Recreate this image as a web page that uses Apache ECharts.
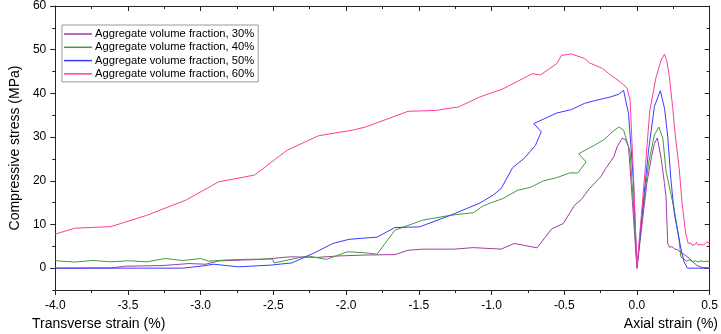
<!DOCTYPE html>
<html>
<head>
<meta charset="utf-8">
<script src="https://cdn.jsdelivr.net/npm/echarts@6/dist/echarts.min.js"></script>
<style>
html,body{margin:0;padding:0;background:#fff;}
#chart{width:721px;height:334px;}
</style>
</head>
<body>
<div id="chart"></div>
<script>
// ---- Data (strain %, stress MPa) ----
const seriesNames = [
  'Aggregate volume fraction, 30%',
  'Aggregate volume fraction, 40%',
  'Aggregate volume fraction, 50%',
  'Aggregate volume fraction, 60%'
];

const strain30 = [-4, -3.618, -3.517, -3.259, -3.08, -2.966, -2.877, -2.72, -2.585, -2.383, -2.203, -2.046, -1.866, -1.664, -1.574, -1.473, -1.26, -1.125, -0.934, -0.844, -0.687, -0.586, -0.507, -0.429, -0.383, -0.327, -0.249, -0.215, -0.159, -0.136, -0.102, -0.08, -0.058, -0.045, 0,
  0.035, 0.068, 0.1, 0.12, 0.14, 0.167, 0.189, 0.2, 0.208, 0.212, 0.215, 0.225, 0.24, 0.26, 0.28, 0.3, 0.32, 0.35, 0.38, 0.41, 0.44, 0.5];
const stress30 = [0, 0.05, 0.45, 0.6, 1.05, 0.9, 1.65, 1.85, 2.0, 2.6, 2.45, 2.8, 3.0, 3.1, 4.1, 4.35, 4.35, 4.7, 4.35, 5.65, 4.65, 9.0, 10.2, 14.4, 15.7, 18.2, 20.9, 22.8, 25.5, 27.8, 29.7, 29.5, 27.8, 22, 0,
  10, 19.4, 25.5, 28.5, 29.8, 25.1, 19.4, 16.3, 9, 5.6, 5.3, 4.8, 4.9, 4.4, 4.2, 3.6, 3.2, 2.5, 1.6, 0.7, 0.2, 0];

const strain40 = [-4, -3.865, -3.74, -3.618, -3.495, -3.37, -3.247, -3.124, -3.0, -2.944, -2.83, -2.72, -2.506, -2.495, -2.315, -2.258, -2.136, -1.99, -1.866, -1.787, -1.664, -1.473, -1.282, -1.125, -1.06, -1.001, -0.923, -0.822, -0.732, -0.642, -0.552, -0.462, -0.406, -0.35, -0.4, -0.294, -0.226, -0.17, -0.125, -0.092, -0.047, -0.025, 0,
  0.04, 0.08, 0.12, 0.151, 0.178, 0.2, 0.223, 0.257, 0.29, 0.302, 0.324, 0.34, 0.36, 0.38, 0.40, 0.42, 0.44, 0.46, 0.48, 0.5];
const stress40 = [1.7, 1.4, 1.75, 1.45, 1.7, 1.45, 2.2, 1.75, 2.2, 1.6, 1.85, 2.0, 2.1, 1.2, 2.45, 2.75, 2.0, 3.75, 3.5, 3.2, 8.7, 11.0, 12.1, 12.7, 14.2, 15.0, 15.9, 17.8, 18.5, 20.0, 20.7, 21.8, 21.8, 24.3, 26.2, 28.1, 29.4, 31.2, 32.3, 31.6, 26.6, 15, 0,
  13, 24, 30.5, 32.3, 29.7, 22.2, 18.6, 13.3, 6.4, 2.6, 2.05, 1.6, 1.9, 1.5, 1.7, 1.4, 1.7, 1.5, 1.6, 1.5];

const strain50 = [-4, -3.618, -3.124, -2.99, -2.91, -2.74, -2.517, -2.372, -2.225, -2.09, -1.98, -1.866, -1.787, -1.664, -1.495, -1.282, -1.08, -0.99, -0.934, -0.855, -0.776, -0.698, -0.658, -0.709, -0.552, -0.45, -0.361, -0.282, -0.181, -0.125, -0.092, -0.058, -0.024, 0,
  0.04, 0.08, 0.12, 0.161, 0.19, 0.212, 0.234, 0.257, 0.279, 0.302, 0.324, 0.347, 0.4, 0.5];
const stress50 = [0, 0, 0, 0.5, 0.9, 0.3, 0.7, 1.2, 3.4, 5.65, 6.6, 6.9, 7.1, 9.3, 9.45, 12.1, 14.9, 16.7, 18.2, 23.0, 25.1, 28.1, 31.2, 33.1, 35.5, 36.3, 37.7, 38.4, 39.2, 39.8, 40.7, 35.4, 20, 0,
  14, 27, 37, 40.6, 36.5, 30.0, 20.1, 12.5, 8.7, 4.5, 1.45, 0, 0, 0];

const strain60 = [-4, -3.865, -3.618, -3.37, -3.1, -2.877, -2.63, -2.405, -2.19, -1.955, -1.866, -1.574, -1.383, -1.226, -1.08, -0.923, -0.72, -0.664, -0.552, -0.518, -0.45, -0.36, -0.327, -0.237, -0.181, -0.114, -0.069, -0.047, -0.025, 0,
  0.03, 0.06, 0.088, 0.13, 0.165, 0.19, 0.205, 0.223, 0.245, 0.265, 0.29, 0.31, 0.335, 0.353, 0.36, 0.37, 0.38, 0.39, 0.40, 0.41, 0.42, 0.43, 0.44, 0.45, 0.46, 0.47, 0.48, 0.49, 0.5];
const stress60 = [7.8, 9.15, 9.5, 12.1, 15.6, 19.75, 21.3, 27, 30.3, 31.6, 32.3, 35.9, 36.1, 36.9, 39.2, 41, 44.5, 44.2, 46.8, 48.7, 49, 48, 47, 45.7, 44.2, 42.6, 41.3, 38.4, 22, 0,
  12, 24, 36, 43.5, 47.5, 49, 47.5, 43.8, 37, 30, 23, 15, 8, 5.6, 5.3, 5.8, 5.2, 5.6, 5.4, 5.9, 5.3, 5.6, 5.4, 5.8, 5.3, 5.5, 6.0, 5.6, 5.8];

const yMajorTicks = [0, 10, 20, 30, 40, 50, 60];
const yMinorTicks = [-5, 5, 15, 25, 35, 45, 55];

const colors = ['#a23ca3', '#3f9e3f', '#3b3bff', '#ff3d9d'];
const FONT = '"Liberation Sans", Arial, sans-serif';

function zip(xs, ys) { return xs.map((x, i) => [x, ys[i]]); }
const allData = [zip(strain30, stress30), zip(strain40, stress40), zip(strain50, stress50), zip(strain60, stress60)];

const axisLineStyle = { color: '#222', width: 1 };

const chart = echarts.init(document.getElementById('chart'), null, { renderer: 'canvas' });
chart.setOption({
  animation: false,
  backgroundColor: '#fff',
  textStyle: { fontFamily: FONT },
  title: [
    { text: 'Transverse strain (%)', left: 32, top: 317, padding: 0,
      textStyle: { fontSize: 14, fontWeight: 'normal', color: '#000', fontFamily: FONT } },
    { text: 'Axial strain (%)', right: 3, top: 317, padding: 0,
      textStyle: { fontSize: 14, fontWeight: 'normal', color: '#000', fontFamily: FONT } }
  ],
  legend: {
    orient: 'vertical', left: 62, top: 25,
    data: seriesNames,
    icon: 'rect',
    borderColor: '#999', borderWidth: 1, borderRadius: 0,
    padding: [3, 4, 2, 2],
    itemWidth: 28, itemHeight: 1.5, itemGap: 1.3,
    textStyle: { fontSize: 11.2, lineHeight: 12, color: '#000', fontFamily: FONT, padding: [0, 0, 0, -2] }
  },
  grid: { left: 43, right: 10, top: 6, bottom: 44, containLabel: false },
  xAxis: [
    { type: 'value', position: 'bottom', min: -4, max: 0.5, interval: 0.5,
      axisLine: { show: true, onZero: false, lineStyle: axisLineStyle },
      axisTick: { show: true, inside: false, length: 5, lineStyle: axisLineStyle },
      minorTick: { show: true, splitNumber: 2, length: 3, lineStyle: axisLineStyle },
      axisLabel: { fontSize: 12, color: '#000', margin: 10, fontFamily: FONT,
        formatter: v => v.toFixed(1) },
      splitLine: { show: false }, minorSplitLine: { show: false } },
    { type: 'value', position: 'top', min: -4, max: 0.5, interval: 0.5,
      axisLine: { show: true, onZero: false, lineStyle: axisLineStyle },
      axisTick: { show: true, inside: true, length: 5, lineStyle: axisLineStyle },
      minorTick: { show: true, splitNumber: 2, length: 3, lineStyle: axisLineStyle },
      axisLabel: { show: false },
      splitLine: { show: false } }
  ],
  yAxis: [
    { type: 'value', position: 'left', min: -5, max: 60,
      name: 'Compressive stress (MPa)', nameLocation: 'middle', nameGap: 30,
      nameTextStyle: { fontSize: 14, color: '#000', fontFamily: FONT },
      axisLine: { show: true, onZero: false, lineStyle: axisLineStyle },
      axisTick: { show: true, inside: false, length: 5, customValues: yMajorTicks, lineStyle: axisLineStyle },
      axisLabel: { fontSize: 12, color: '#000', margin: 9, fontFamily: FONT, customValues: yMajorTicks },
      splitLine: { show: false } },
    { type: 'value', position: 'left', min: -5, max: 60,
      axisLine: { show: false, onZero: false },
      axisTick: { show: true, inside: false, length: 3, customValues: yMinorTicks, lineStyle: axisLineStyle },
      axisLabel: { show: false, customValues: yMinorTicks },
      splitLine: { show: false } },
    { type: 'value', position: 'right', min: -5, max: 60,
      axisLine: { show: true, onZero: false, lineStyle: axisLineStyle },
      axisTick: { show: true, inside: true, length: 5, customValues: yMajorTicks, lineStyle: axisLineStyle },
      axisLabel: { show: false, customValues: yMajorTicks },
      splitLine: { show: false } },
    { type: 'value', position: 'right', min: -5, max: 60,
      axisLine: { show: false, onZero: false },
      axisTick: { show: true, inside: true, length: 3, customValues: yMinorTicks, lineStyle: axisLineStyle },
      axisLabel: { show: false, customValues: yMinorTicks },
      splitLine: { show: false } }
  ],
  series: seriesNames.map((name, i) => ({
    name: name,
    type: 'line',
    xAxisIndex: 0,
    yAxisIndex: 0,
    data: allData[i],
    showSymbol: false,
    symbol: 'none',
    color: colors[i],
    lineStyle: { width: 1, color: colors[i] },
    z: 2 + i
  }))
});
</script>
</body>
</html>
